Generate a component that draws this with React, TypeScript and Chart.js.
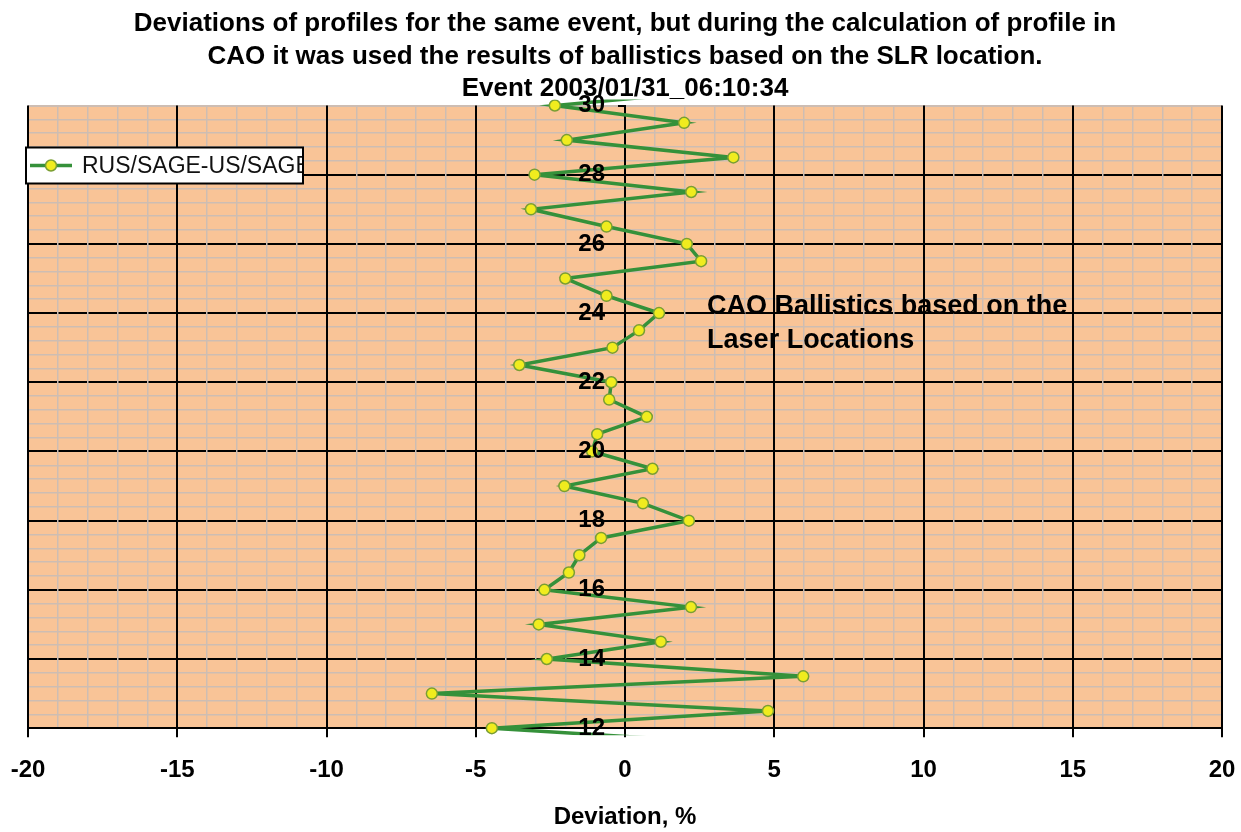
import React, { useEffect, useRef } from 'react';
import { Chart, registerables } from 'chart.js';

Chart.register(...registerables);

const titleLines = [
  'Deviations of profiles for the same event, but during the calculation of profile in',
  'CAO it was used the results of ballistics based on the SLR location.',
  'Event 2003/01/31_06:10:34',
];
const xAxisTitle = 'Deviation, %';
const seriesLabel = 'RUS/SAGE-US/SAGE';
const noteLines = ['CAO Ballistics based on the', 'Laser Locations'];

// altitude (y) and deviation (x) of each profile point
const altitudes = [
  30.5, 30, 29.5, 29, 28.5, 28, 27.5, 27, 26.5, 26, 25.5, 25, 24.5, 24, 23.5, 23, 22.5, 22, 21.5, 21,
  20.5, 20, 19.5, 19, 18.5, 18, 17.5, 17, 16.5, 16, 15.5, 15, 14.5, 14, 13.5, 13, 12.5, 12, 11.5,
];
const deviations = [
  4.0, -2.35, 1.98, -1.95, 3.63, -3.03, 2.22, -3.15, -0.62, 2.07, 2.55, -2.0, -0.62, 1.14, 0.47, -0.42,
  -3.54, -0.46, -0.53, 0.73, -0.93, -1.1, 0.92, -2.03, 0.6, 2.14, -0.8, -1.53, -1.88, -2.7, 2.21, -2.89,
  1.2, -2.62, 5.97, -6.47, 4.79, -4.46, 4.9,
];

// axis ranges and tick steps
const xRange = [-20, 20];
const yRange = [12, 30];
const xMinorStep = 1;
const xLabelStep = 5;
const yMinorStep = 0.4;
const yLabelStep = 2;

const FONT = '"Liberation Sans", Arial, Helvetica, sans-serif';
const MINOR = '#cdbdb3';
const LINE_GREEN = '#35913a';
const MARKER_FILL = '#f0ec1e';
const MARKER_EDGE = '#7a9e34';

const isMult = (v: number, step: number) => Math.abs(v / step - Math.round(v / step)) < 1e-6;

const decorPlugin = {
  id: 'decor',
  beforeDraw(chart: any) {
    const { ctx, chartArea: a } = chart;
    ctx.save();
    ctx.fillStyle = '#f9c497';
    ctx.fillRect(a.left, a.top, a.right - a.left, a.bottom - a.top);
    ctx.restore();
  },
  afterDraw(chart: any) {
    const { ctx, chartArea: a, scales } = chart;
    const ds = chart.data.datasets[0];
    // legend box
    const bx = a.left - 2;
    const by = a.top + 42;
    const bw = 277;
    const bh = 36;
    ctx.save();
    ctx.fillStyle = '#ffffff';
    ctx.fillRect(bx, by, bw, bh);
    ctx.strokeStyle = '#000';
    ctx.lineWidth = 2;
    ctx.strokeRect(bx, by, bw, bh);
    const cy = by + bh / 2;
    ctx.strokeStyle = ds.borderColor;
    ctx.lineWidth = ds.borderWidth;
    ctx.beginPath();
    ctx.moveTo(bx + 4, cy);
    ctx.lineTo(bx + 46, cy);
    ctx.stroke();
    ctx.beginPath();
    ctx.arc(bx + 25, cy, ds.pointRadius, 0, Math.PI * 2);
    ctx.fillStyle = ds.pointBackgroundColor;
    ctx.fill();
    ctx.lineWidth = ds.pointBorderWidth;
    ctx.strokeStyle = ds.pointBorderColor;
    ctx.stroke();
    ctx.beginPath();
    ctx.rect(bx + 1, by + 1, bw - 2, bh - 2);
    ctx.clip();
    ctx.font = '23px ' + FONT;
    ctx.fillStyle = '#111';
    ctx.textBaseline = 'middle';
    ctx.textAlign = 'left';
    ctx.fillText(ds.label, bx + 56, cy + 1);
    ctx.restore();

    // note text
    ctx.save();
    ctx.font = 'bold 27px ' + FONT;
    ctx.fillStyle = '#000';
    ctx.textBaseline = 'middle';
    ctx.textAlign = 'left';
    const nx = scales.x.getPixelForValue(2.75);
    const ny = scales.y.getPixelForValue(24.2);
    noteLines.forEach((t, i) => ctx.fillText(t, nx, ny + i * 34));
    ctx.restore();
  },
};

export default function App() {
  const ref = useRef<HTMLCanvasElement | null>(null);

  useEffect(() => {
    if (!ref.current) return;
    const points = altitudes.map((y, i) => ({ x: deviations[i], y }));
    const chart = new Chart(ref.current, {
      type: 'scatter',
      data: {
        datasets: [
          {
            label: seriesLabel,
            data: points,
            showLine: true,
            borderColor: LINE_GREEN,
            borderWidth: 3.5,
            pointRadius: 5.5,
            pointBackgroundColor: MARKER_FILL,
            pointBorderColor: MARKER_EDGE,
            pointBorderWidth: 1.5,
            pointHoverRadius: 5.5,
            clip: { left: 0, right: 0, top: 6, bottom: 7 } as any,
          },
        ],
      },
      options: {
        animation: false,
        responsive: false,
        devicePixelRatio: 1,
        layout: { padding: { left: 28, right: 19, top: 0, bottom: 0 } },
        plugins: {
          legend: { display: false },
          tooltip: { enabled: false },
          title: {
            display: true,
            text: titleLines,
            color: '#000',
            font: { size: 26, weight: 'bold', family: FONT, lineHeight: 1.25 },
            padding: { top: 8, bottom: 0 },
          },
        },
        scales: {
          x: {
            type: 'linear',
            position: 'bottom',
            min: xRange[0],
            max: xRange[1],
            ticks: {
              stepSize: xMinorStep,
              autoSkip: false,
              maxRotation: 0,
              minRotation: 0,
              padding: 5,
              color: '#000',
              font: { size: 24, weight: 'bold', family: FONT, lineHeight: 2.3333 },
              callback: (v: any) => (isMult(Number(v), xLabelStep) ? String(Math.round(Number(v))) : ''),
            },
            grid: {
              color: (c: any) => (c.tick && isMult(c.tick.value, xLabelStep) ? '#000' : MINOR),
              lineWidth: (c: any) => (c.tick && isMult(c.tick.value, xLabelStep) ? 2 : 1.5),
              tickColor: (c: any) => (c.tick && isMult(c.tick.value, xLabelStep) ? '#000' : 'rgba(0,0,0,0)'),
              tickLength: 9,
              tickWidth: 2,
            },
            border: { color: '#000', width: 2 },
            title: {
              display: true,
              text: xAxisTitle,
              color: '#000',
              font: { size: 24, weight: 'bold', family: FONT, lineHeight: 1.2 },
              padding: { top: 0, bottom: 0 },
            },
          },
          y: {
            type: 'linear',
            position: { x: 0 } as any,
            min: yRange[0],
            max: yRange[1],
            ticks: {
              stepSize: yMinorStep,
              autoSkip: false,
              padding: 0,
              z: 1,
              color: '#000',
              font: { size: 24, weight: 'bold', family: FONT },
              // trailing spaces keep the labels clear of the axis line, as in the original
              callback: (v: any) => (isMult(Number(v), yLabelStep) ? String(Math.round(Number(v))) + '   ' : ''),
            },
            grid: {
              z: -2,
              color: (c: any) => {
                const v = c.tick ? c.tick.value : 0;
                if (Math.abs(v - yRange[1]) < 1e-6) return MINOR;
                return isMult(v, yLabelStep) ? '#000' : MINOR;
              },
              lineWidth: (c: any) => (c.tick && isMult(c.tick.value, yLabelStep) ? 2 : 1.5),
              tickColor: (c: any) => (c.tick && isMult(c.tick.value, yLabelStep) ? '#000' : 'rgba(0,0,0,0)'),
              tickLength: 6,
              tickWidth: 2,
            },
            border: { color: '#000', width: 2 },
          },
        },
      },
      plugins: [decorPlugin],
    });
    return () => chart.destroy();
  }, []);

  return (
    <div style={{ position: 'fixed', left: 0, top: 0, width: 1241, height: 832, background: '#fff' }}>
      <canvas ref={ref} width={1241} height={832} style={{ display: 'block' }} />
    </div>
  );
}
